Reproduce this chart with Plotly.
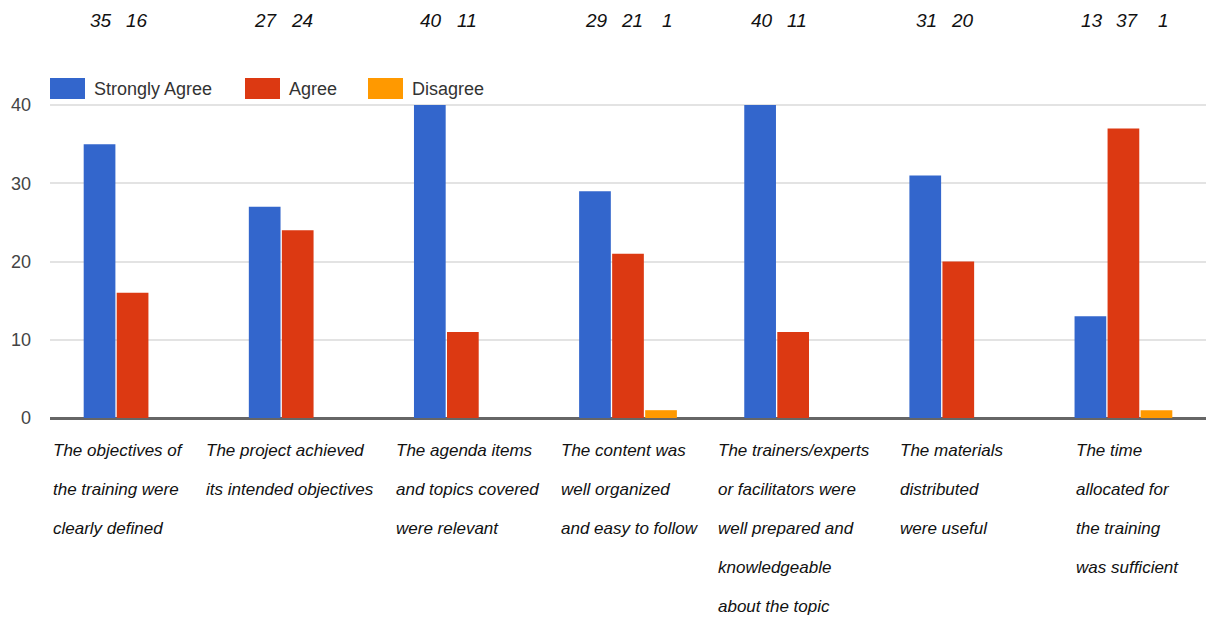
import plotly.graph_objects as go

# Survey results per statement
statements = [
    ["The objectives of", "the training were", "clearly defined"],
    ["The project achieved", "its intended objectives"],
    ["The agenda items", "and topics covered", "were relevant"],
    ["The content was", "well organized", "and easy to follow"],
    ["The trainers/experts", "or facilitators were", "well prepared and", "knowledgeable", "about the topic"],
    ["The materials", "distributed", "were useful"],
    ["The time", "allocated for", "the training", "was sufficient"],
]
series_names = ["Strongly Agree", "Agree", "Disagree"]
strongly_agree = [35, 27, 40, 29, 40, 31, 13]
agree = [16, 24, 11, 21, 11, 20, 37]
disagree = [0, 0, 0, 1, 0, 0, 1]
y_ticks = [0, 10, 20, 30, 40]

series_values = [strongly_agree, agree, disagree]
colors = ["#3366CC", "#DC3912", "#FF9900"]

W, H = 1206, 618
ML, MR, MT, MB = 50, 0, 66, 200
PW, PH = W - ML - MR, H - MT - MB
Y_TOP = 45

LABEL_FONT = "Liberation Sans, Arial, sans-serif"

cats = list(range(len(statements)))
BARGAP = 0.4

fig = go.Figure()
for name, vals, col in zip(series_names, series_values, colors):
    fig.add_trace(go.Bar(
        x=cats, y=vals, name=name, marker=dict(color=col, line=dict(width=0)),
        showlegend=False,
    ))

annotations = []
# count labels across the top, one per non-zero bar
NUM_STEP, NUM_SHIFT = 0.215, 0.025
for i in cats:
    for j, vals in enumerate(series_values):
        if vals[i]:
            annotations.append(dict(
                x=i + (j - 1) * NUM_STEP + NUM_SHIFT, xref="x", y=1, yref="paper",
                yshift=MT - 20, yanchor="middle", xanchor="center",
                text=f"<i>{vals[i]}</i>", showarrow=False,
                font=dict(family=LABEL_FONT, size=19, color="#111111"),
            ))

# left-aligned multi-line statement labels under each group
label_left = [-0.495, 0.435, 1.585, 2.585, 3.535, 4.635, 5.70]
for i, lines in enumerate(statements):
    for k, line in enumerate(lines):
        annotations.append(dict(
            x=label_left[i], xref="x", y=0, yref="paper",
            yshift=-32 - 39 * k, yanchor="middle", xanchor="left",
            text=f"<i>{line}</i>", showarrow=False,
            font=dict(family=LABEL_FONT, size=17, color="#111111"),
        ))

# legend drawn as wide swatches with labels
legend_px = [50, 245, 368]
shapes = []
for name, col, px in zip(series_names, colors, legend_px):
    shapes.append(dict(type="rect", xref="paper", yref="paper",
                       x0=(px - ML) / PW, x1=(px + 35 - ML) / PW,
                       y0=(H - MB - 99) / PH, y1=(H - MB - 78) / PH,
                       fillcolor=col, line=dict(width=0), layer="above"))
    annotations.append(dict(
        x=(px + 42 - ML) / PW, xref="paper", y=(H - MB - 89) / PH, yref="paper",
        xanchor="left", yanchor="middle", text=name, showarrow=False,
        font=dict(family=LABEL_FONT, size=18, color="#333333"),
    ))

fig.update_layout(
    width=W, height=H,
    margin=dict(l=ML, r=MR, t=MT, b=MB),
    paper_bgcolor="white", plot_bgcolor="white",
    barmode="group", bargap=BARGAP, bargroupgap=0.04,
    annotations=annotations, shapes=shapes,
    xaxis=dict(range=[-0.5, len(cats) - 0.5], showticklabels=False, showgrid=False,
               zeroline=False, showline=False, fixedrange=True),
    yaxis=dict(range=[0, Y_TOP], tickvals=y_ticks + [Y_TOP],
               ticktext=[str(t) for t in y_ticks] + [""],
               showgrid=True, gridcolor="#e3e3e3", gridwidth=1.5,
               zeroline=True, zerolinecolor="#666666", zerolinewidth=2.5,
               ticks="", ticklabelstandoff=18,
               tickfont=dict(family=LABEL_FONT, size=18, color="#444444")),
    showlegend=False,
)

fig.write_html("out.html")
